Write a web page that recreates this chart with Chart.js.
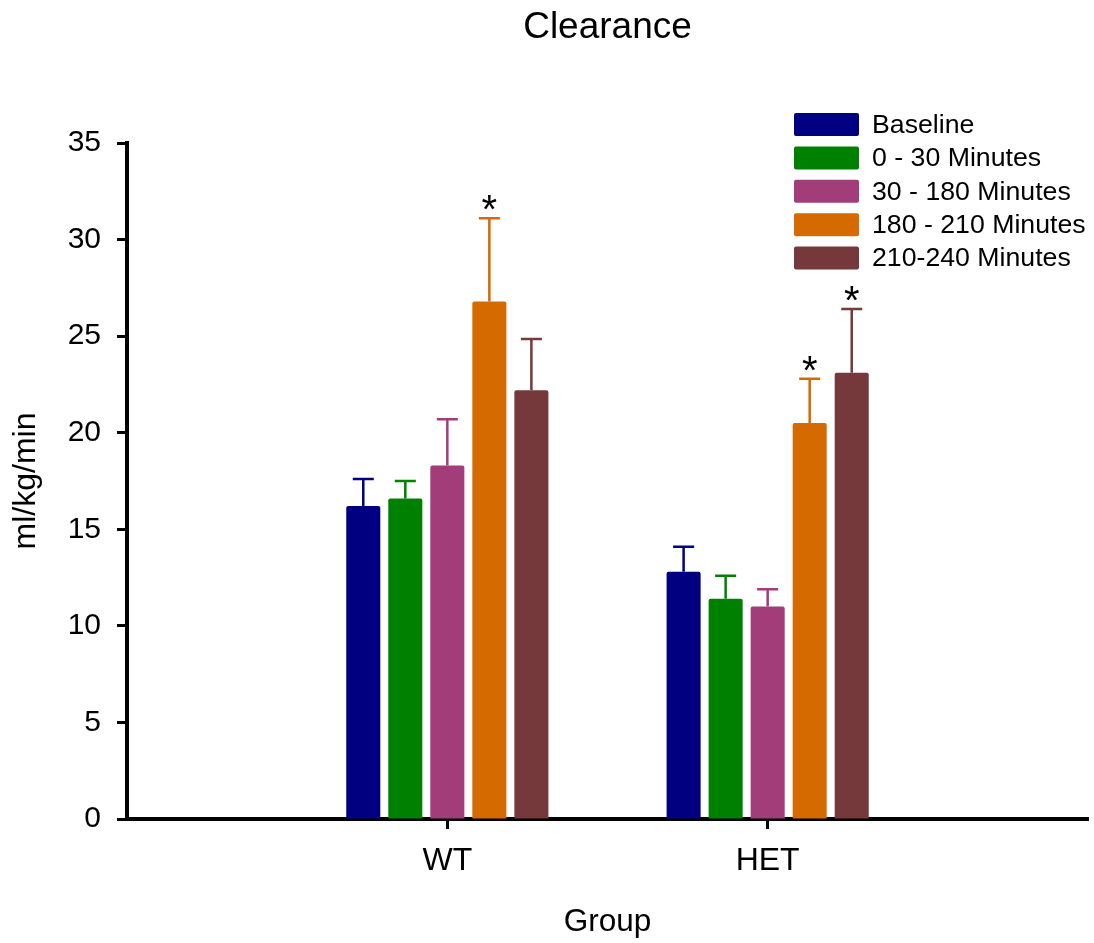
<!DOCTYPE html>
<html>
<head>
<meta charset="utf-8">
<title>Clearance</title>
<script src="https://cdn.jsdelivr.net/npm/chart.js@4/dist/chart.umd.min.js"></script>
<style>
  html, body { margin: 0; padding: 0; background: #fff; }
  #wrap { width: 1094px; height: 943px; }
</style>
</head>
<body>
<div id="wrap"><canvas id="clearanceChart" width="1094" height="943"></canvas></div>
<script>
// --- data ---
const groups = ["WT", "HET"];
const seriesNames = ["Baseline", "0 - 30 Minutes", "30 - 180 Minutes", "180 - 210 Minutes", "210-240 Minutes"];
const seriesColors = ["#000080", "#008000", "#A23D7A", "#D46A00", "#76393B"];

const baseline = [16.2, 12.8];
const min0to30 = [16.6, 11.4];
const min30to180 = [18.3, 11.0];
const min180to210 = [26.8, 20.5];
const min210to240 = [22.2, 23.1];

// upward error (SEM)
const baselineErr = [1.4, 1.3];
const min0to30Err = [0.9, 1.2];
const min30to180Err = [2.4, 0.9];
const min180to210Err = [4.3, 2.3];
const min210to240Err = [2.65, 3.3];

// significance stars
const baselineStar = [false, false];
const min0to30Star = [false, false];
const min30to180Star = [false, false];
const min180to210Star = [true, true];
const min210to240Star = [false, true];

const yTicks = [0, 5, 10, 15, 20, 25, 30, 35];

const FONT = "'Liberation Sans', Arial, Helvetica, sans-serif";

// empty slot on both sides so WT / HET sit at 1/3 and 2/3 of the axis
const pad = arr => [null, ...arr, null];
const labels = ["", ...groups, ""];

const values = [baseline, min0to30, min30to180, min180to210, min210to240];
const errors = [baselineErr, min0to30Err, min30to180Err, min180to210Err, min210to240Err];
const stars = [baselineStar, min0to30Star, min30to180Star, min180to210Star, min210to240Star];

const datasets = seriesNames.map((name, i) => ({
  label: name,
  data: pad(values[i]),
  err: pad(errors[i]),
  star: pad(stars[i]),
  backgroundColor: seriesColors[i],
  borderColor: seriesColors[i],
  borderWidth: 0,
  borderRadius: 2,
  categoryPercentage: 0.656,
  barPercentage: 0.81
}));

// --- error bars + stars ---
const errorBars = {
  id: "errorBars",
  afterDatasetsDraw(chart) {
    const ctx = chart.ctx;
    const y = chart.scales.y;
    chart.data.datasets.forEach((ds, di) => {
      const meta = chart.getDatasetMeta(di);
      meta.data.forEach((bar, i) => {
        const v = ds.data[i];
        if (v == null) return;
        const top = y.getPixelForValue(v + ds.err[i]);
        const base = y.getPixelForValue(v);
        ctx.save();
        ctx.strokeStyle = ds.borderColor;
        ctx.lineWidth = 2.5;
        ctx.beginPath();
        ctx.moveTo(bar.x, base);
        ctx.lineTo(bar.x, top);
        ctx.moveTo(bar.x - 10.5, top);
        ctx.lineTo(bar.x + 10.5, top);
        ctx.stroke();
        if (ds.star[i]) {
          ctx.fillStyle = "#000";
          ctx.font = "40px " + FONT;
          ctx.textAlign = "center";
          ctx.textBaseline = "alphabetic";
          ctx.fillText("*", bar.x, top + 5);
        }
        ctx.restore();
      });
    });
  }
};

// --- title over the plot area + legend in the top right corner ---
const titleAndLegend = {
  id: "titleAndLegend",
  afterDraw(chart) {
    const ctx = chart.ctx;
    const area = chart.chartArea;
    ctx.save();
    ctx.fillStyle = "#000";
    ctx.font = "37px " + FONT;
    ctx.textAlign = "center";
    ctx.textBaseline = "alphabetic";
    ctx.fillText("Clearance", (area.left + area.right) / 2, 38);

    ctx.font = "26.7px " + FONT;
    ctx.textBaseline = "middle";
    ctx.textAlign = "left";
    seriesNames.forEach((name, i) => {
      const cy = 124.5 + i * 33.4;
      ctx.fillStyle = seriesColors[i];
      ctx.beginPath();
      ctx.roundRect(794, cy - 11.5, 65, 23, 2);
      ctx.fill();
      ctx.fillStyle = "#000";
      ctx.fillText(name, 872, cy + 1);
    });
    ctx.restore();
  }
};

new Chart(document.getElementById("clearanceChart"), {
  type: "bar",
  data: { labels: labels, datasets: datasets },
  plugins: [errorBars, titleAndLegend],
  options: {
    responsive: false,
    animation: false,
    layout: { padding: { left: 0, right: 6, top: 143, bottom: 0 } },
    plugins: {
      legend: { display: false },
      tooltip: { enabled: false },
      title: { display: false }
    },
    scales: {
      x: {
        offset: false,
        grid: {
          offset: false,
          drawOnChartArea: false,
          drawTicks: true,
          tickLength: 10,
          tickWidth: 3,
          tickColor: c => (c.tick && c.tick.label ? "#000" : "rgba(0,0,0,0)")
        },
        border: { display: true, color: "#000", width: 4 },
        ticks: {
          color: "#000",
          padding: 13,
          maxRotation: 0,
          autoSkip: false,
          font: { family: FONT, size: 32 }
        },
        title: {
          display: true,
          text: "Group",
          color: "#000",
          font: { family: FONT, size: 31.5 },
          padding: { top: 0, bottom: 2 }
        },
        afterFit: s => { s.height = 124; s.paddingLeft = 0; s.paddingRight = 0; }
      },
      y: {
        min: 0,
        max: 35,
        afterBuildTicks: s => { s.ticks = yTicks.map(v => ({ value: v })); },
        grid: {
          drawOnChartArea: false,
          drawTicks: true,
          tickLength: 10,
          tickWidth: 3,
          tickColor: "#000"
        },
        border: { display: true, color: "#000", width: 4 },
        ticks: {
          color: "#000",
          padding: 16,
          font: { family: FONT, size: 30 }
        },
        title: {
          display: true,
          text: "ml/kg/min",
          color: "#000",
          font: { family: FONT, size: 32 },
          padding: { top: 7, bottom: 0 }
        },
        afterFit: s => { s.width = 127; }
      }
    }
  }
});
</script>
</body>
</html>
